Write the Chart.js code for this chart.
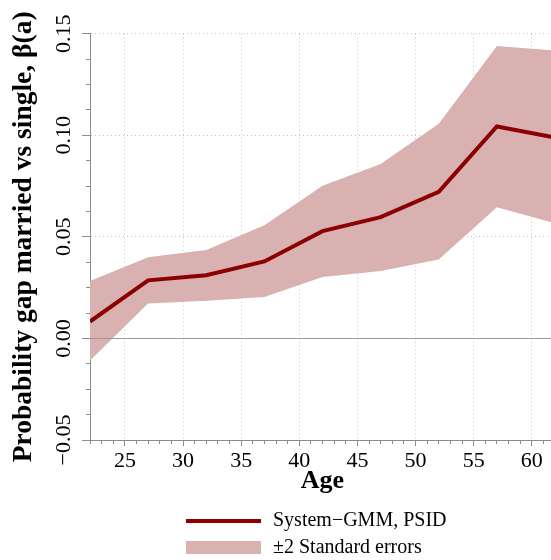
<!DOCTYPE html>
<html>
<head>
<meta charset="utf-8">
<script src="https://cdn.jsdelivr.net/npm/chart.js@4/dist/chart.umd.min.js"></script>
<style>
  html, body { margin: 0; padding: 0; overflow: hidden; background: #ffffff; }
  #wrap { width: 557px; height: 560px; position: relative; }
</style>
</head>
<body>
<div id="wrap"><canvas id="c"></canvas></div>
<script>
// Age-profile of the married-vs-single probability gap with a ±2 s.e. band
const ages       = [22, 27, 32, 37, 42, 47, 52, 57, 62];
const gapEst     = [0.0083, 0.0286, 0.0311, 0.0379, 0.0528, 0.0597, 0.0722, 0.1043, 0.0989];
const upperBand  = [0.0283, 0.0400, 0.0435, 0.0557, 0.0752, 0.0858, 0.1057, 0.1440, 0.1417];
const lowerBand  = [-0.0109, 0.0172, 0.0185, 0.0204, 0.0302, 0.0332, 0.0389, 0.0646, 0.0567];

const ageTickLabels = [25, 30, 35, 40, 45, 50, 55, 60];
const gapTickLabels = [-0.05, 0.00, 0.05, 0.10, 0.15];
const seriesNames   = ['System\u2212GMM, PSID', '\u00b12 Standard errors'];

const LINE_RED  = '#8b0000';
const BAND_PINK = '#d9b1b1';
const AXIS_GREY = '#8c8c8c';
const GRID_GREY = '#c2c2c2';
const SERIF = '"Liberation Serif", "Times New Roman", serif';

const isMajorAge = v => ageTickLabels.includes(v);
const isMajorGap = v => gapTickLabels.some(t => Math.abs(t - v) < 1e-9);

const pts = ys => ages.map((a, i) => ({ x: a, y: ys[i] }));

// solid reference line at zero, laid over the band but under the estimate
const zeroLine = {
  id: 'zeroLine',
  afterDatasetDraw(chart, args) {
    if (args.index !== 1) return;
    const { ctx, chartArea, scales } = chart;
    const y = Math.round(scales.y.getPixelForValue(0)) + 0.5;
    ctx.save();
    ctx.strokeStyle = '#9a9a9a';
    ctx.lineWidth = 1;
    ctx.beginPath();
    ctx.moveTo(chartArea.left, y);
    ctx.lineTo(chartArea.right, y);
    ctx.stroke();
    ctx.restore();
  }
};

// two-row key below the axis title, entries left aligned
const seriesKey = {
  id: 'seriesKey',
  afterDraw(chart) {
    const { ctx, chartArea } = chart;
    const left = chartArea.left + 96;
    const sampleW = 75;
    const textX = left + 87;
    const row1 = chart.height - 39;
    const row2 = chart.height - 12.5;
    const line = chart.data.datasets[0];
    const band = chart.data.datasets[1];
    ctx.save();
    ctx.strokeStyle = line.borderColor;
    ctx.lineWidth = line.borderWidth;
    ctx.beginPath();
    ctx.moveTo(left, row1);
    ctx.lineTo(left + sampleW, row1);
    ctx.stroke();
    ctx.fillStyle = band.backgroundColor;
    ctx.fillRect(left, row2 - 6.5, sampleW, 13);
    ctx.fillStyle = '#000';
    ctx.font = '20px ' + SERIF;
    ctx.textBaseline = 'middle';
    ctx.textAlign = 'left';
    ctx.fillText(line.label, textX, row1);
    ctx.fillText(band.label, textX, row2);
    ctx.restore();
  }
};

new Chart(document.getElementById('c'), {
  type: 'line',
  data: {
    datasets: [
      {
        label: seriesNames[0],
        data: pts(gapEst),
        borderColor: LINE_RED,
        borderWidth: 4,
        pointRadius: 0,
        fill: false,
        tension: 0
      },
      {
        label: seriesNames[1],
        data: pts(upperBand),
        borderWidth: 0,
        borderColor: 'rgba(0,0,0,0)',
        backgroundColor: BAND_PINK,
        pointRadius: 0,
        fill: '+1',
        tension: 0
      },
      {
        label: 'lower',
        data: pts(lowerBand),
        borderWidth: 0,
        borderColor: 'rgba(0,0,0,0)',
        pointRadius: 0,
        fill: false,
        tension: 0
      }
    ]
  },
  options: {
    responsive: true,
    maintainAspectRatio: false,
    animation: false,
    layout: { padding: { top: 33.7, bottom: 63, left: 0, right: 0 } },
    plugins: {
      legend: { display: false },
      tooltip: { enabled: false }
    },
    scales: {
      x: {
        type: 'linear',
        min: 22,
        max: 62,
        afterFit(scale) { scale.height = 57; },
        ticks: {
          stepSize: 1,
          maxTicksLimit: 100,
          autoSkip: false,
          minRotation: 0,
          maxRotation: 0,
          padding: 2,
          color: '#000',
          font: { family: SERIF, size: 22 },
          callback: v => isMajorAge(v) ? String(v) : ''
        },
        grid: {
          color: c => isMajorAge(c.tick.value) ? GRID_GREY : 'rgba(0,0,0,0)',
          lineWidth: 1,
          tickLength: 6,
          tickColor: AXIS_GREY,
          tickBorderDash: c => isMajorAge(c.tick.value) ? [] : [3, 20]
        },
        border: { color: AXIS_GREY, width: 1, dash: [1, 3] },
        title: {
          display: true,
          text: 'Age',
          color: '#000',
          font: { family: SERIF, size: 26, weight: 'bold' },
          padding: { top: 0, bottom: 0 }
        }
      },
      y: {
        type: 'linear',
        min: -0.05,
        max: 0.15,
        afterFit(scale) { scale.width = 90; },
        ticks: {
          stepSize: 0.0125,
          maxTicksLimit: 100,
          autoSkip: false,
          minRotation: 90,
          maxRotation: 90,
          crossAlign: 'center',
          padding: -8,
          color: '#000',
          font: { family: SERIF, size: 22 },
          callback: v => {
            if (!isMajorGap(v)) return '';
            const r = Math.round(v * 100) / 100;
            return (r < 0 ? '\u2212' : '') + Math.abs(r).toFixed(2);
          }
        },
        grid: {
          color: c => isMajorGap(c.tick.value) ? GRID_GREY : 'rgba(0,0,0,0)',
          lineWidth: 1,
          tickLength: 8,
          tickColor: AXIS_GREY,
          tickBorderDash: c => isMajorGap(c.tick.value) ? [] : [0, 4, 4, 20]
        },
        border: { color: AXIS_GREY, width: 1, dash: [1, 3] },
        title: {
          display: true,
          text: 'Probability gap married vs single, \u03b2(a)',
          color: '#000',
          font: { family: SERIF, size: 27.5, weight: 'bold' },
          padding: { top: 7.2, bottom: 0 }
        }
      }
    }
  },
  plugins: [zeroLine, seriesKey]
});
</script>
</body>
</html>
